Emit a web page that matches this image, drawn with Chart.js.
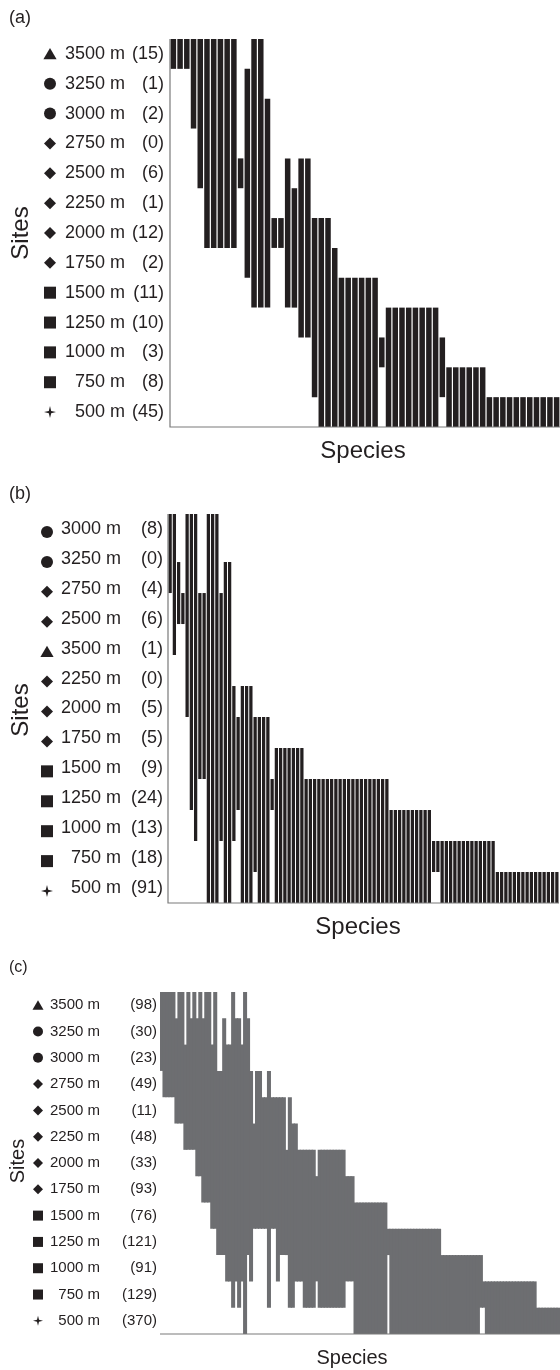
<!DOCTYPE html>
<html>
<head>
<meta charset="utf-8">
<script src="https://cdn.jsdelivr.net/npm/chart.js@4.4.0/dist/chart.umd.min.js"></script>
<style>
  body { margin: 0; background: #fff; width: 560px; height: 1370px; position: relative; overflow: hidden; }
  canvas { position: absolute; left: 0; }
</style>
</head>
<body>
<canvas id="chartA" width="560" height="470" style="top:0"></canvas>
<canvas id="chartB" width="560" height="475" style="top:470px"></canvas>
<canvas id="chartC" width="560" height="425" style="top:945px"></canvas>
<script>
// rows are counted from the bottom (0 = 500 m) up to 13 = top of the highest site
// each species is one column, drawn from its lowest to its highest site

// ---- panel (a) ----
const aSites = ['3500 m', '3250 m', '3000 m', '2750 m', '2500 m', '2250 m', '2000 m', '1750 m', '1500 m', '1250 m', '1000 m', '750 m', '500 m'];
const aCounts = ['(15)', '(1)', '(2)', '(0)', '(6)', '(1)', '(12)', '(2)', '(11)', '(10)', '(3)', '(8)', '(45)'];
const aSymbols = ['triangle', 'circle', 'circle', 'diamond', 'diamond', 'diamond', 'diamond', 'diamond', 'square', 'square', 'square', 'square', 'star'];
const aLow = [
  12, 12, 12, 10, 8, 6, 6, 6, 6, 6,
  8, 5, 4, 4, 4, 6, 6, 4, 4, 3,
  3, 1, 0, 0, 0, 0, 0, 0, 0, 0,
  0, 2, 0, 0, 0, 0, 0, 0, 0, 0,
  1, 0, 0, 0, 0, 0, 0, 0, 0, 0,
  0, 0, 0, 0, 0, 0, 0, 0
];
const aHigh = [
  13, 13, 13, 13, 13, 13, 13, 13, 13, 13,
  9, 12, 13, 13, 11, 7, 7, 9, 8, 9,
  9, 7, 7, 7, 6, 5, 5, 5, 5, 5,
  5, 3, 4, 4, 4, 4, 4, 4, 4, 4,
  3, 2, 2, 2, 2, 2, 2, 1, 1, 1,
  1, 1, 1, 1, 1, 1, 1, 1
];

// ---- panel (b) ----
const bSites = ['3000 m', '3250 m', '2750 m', '2500 m', '3500 m', '2250 m', '2000 m', '1750 m', '1500 m', '1250 m', '1000 m', '750 m', '500 m'];
const bCounts = ['(8)', '(0)', '(4)', '(6)', '(1)', '(0)', '(5)', '(5)', '(9)', '(24)', '(13)', '(18)', '(91)'];
const bSymbols = ['circle', 'circle', 'diamond', 'diamond', 'triangle', 'diamond', 'diamond', 'diamond', 'square', 'square', 'square', 'square', 'star'];
const bLow = [
  10, 8, 9, 9, 6, 3, 2, 4, 4, 0,
  0, 0, 2, 0, 0, 2, 3, 0, 0, 0,
  1, 0, 0, 0, 3, 0, 0, 0, 0, 0,
  0, 0, 0, 0, 0, 0, 0, 0, 0, 0,
  0, 0, 0, 0, 0, 0, 0, 0, 0, 0,
  0, 0, 0, 0, 0, 0, 0, 0, 0, 0,
  0, 0, 1, 1, 0, 0, 0, 0, 0, 0,
  0, 0, 0, 0, 0, 0, 0, 0, 0, 0,
  0, 0, 0, 0, 0, 0, 0, 0, 0, 0,
  0, 0
];
const bHigh = [
  13, 13, 11, 10, 13, 13, 13, 10, 10, 13,
  13, 13, 10, 11, 11, 7, 6, 7, 7, 7,
  6, 6, 6, 6, 4, 5, 5, 5, 5, 5,
  5, 5, 4, 4, 4, 4, 4, 4, 4, 4,
  4, 4, 4, 4, 4, 4, 4, 4, 4, 4,
  4, 4, 3, 3, 3, 3, 3, 3, 3, 3,
  3, 3, 2, 2, 2, 2, 2, 2, 2, 2,
  2, 2, 2, 2, 2, 2, 2, 1, 1, 1,
  1, 1, 1, 1, 1, 1, 1, 1, 1, 1,
  1, 1
];

// ---- panel (c) ----
const cSites = ['3500 m', '3250 m', '3000 m', '2750 m', '2500 m', '2250 m', '2000 m', '1750 m', '1500 m', '1250 m', '1000 m', '750 m', '500 m'];
const cCounts = ['(98)', '(30)', '(23)', '(49)', '(11)', '(48)', '(33)', '(93)', '(76)', '(121)', '(91)', '(129)', '(370)'];
const cSymbols = ['triangle', 'circle', 'circle', 'diamond', 'diamond', 'diamond', 'diamond', 'diamond', 'square', 'square', 'square', 'square', 'star'];
const cLow = [
  10, 9, 9, 9, 9, 8, 8, 8, 7, 7,
  7, 7, 6, 6, 5, 5, 5, 4, 4, 3,
  3, 3, 2, 2, 1, 2, 1, 2, 0, 3,
  2, 4, 4, 4, 4, 4, 1, 4, 4, 2,
  3, 3, 3, 1, 1, 2, 2, 2, 1, 1,
  1, 1, 2, 1, 1, 1, 1, 1, 1, 1,
  1, 1, 2, 2, 2, 0, 0, 0, 0, 0,
  0, 0, 0, 0, 0, 0, 3, 0, 0, 0,
  0, 0, 0, 0, 0, 0, 0, 0, 0, 0,
  0, 0, 0, 0, 0, 0, 0, 0, 0, 0,
  0, 0, 0, 0, 0, 0, 0, 1, 1, 0,
  0, 0, 0, 0, 0, 0, 0, 0, 0, 0,
  0, 0, 0, 0, 0, 0, 0, 0, 0, 0,
  0, 0, 0, 0
];
const cHigh = [
  13, 13, 13, 13, 13, 12, 13, 13, 11, 13,
  12, 13, 12, 13, 12, 13, 13, 11, 13, 10,
  10, 12, 11, 11, 13, 12, 12, 11, 13, 12,
  10, 8, 10, 10, 9, 9, 10, 9, 9, 9,
  9, 9, 7, 9, 8, 8, 7, 7, 7, 7,
  7, 7, 6, 7, 7, 7, 7, 7, 7, 7,
  7, 7, 6, 6, 6, 5, 5, 5, 5, 5,
  5, 5, 5, 5, 5, 5, 4, 4, 4, 4,
  4, 4, 4, 4, 4, 4, 4, 4, 4, 4,
  4, 4, 4, 4, 3, 3, 3, 3, 3, 3,
  3, 3, 3, 3, 3, 3, 3, 3, 2, 2,
  2, 2, 2, 2, 2, 2, 2, 2, 2, 2,
  2, 2, 2, 2, 2, 2, 1, 1, 1, 1,
  1, 1, 1, 1
];

const INK = '#231f20';
const FONT = "'Liberation Sans', Arial, Helvetica, sans-serif";

function drawSymbol(ctx, kind, x, y, s) {
  const h = s / 2;
  ctx.beginPath();
  if (kind === 'triangle') {
    ctx.moveTo(x, y - h);
    ctx.lineTo(x + h * 1.1, y + h * 0.9);
    ctx.lineTo(x - h * 1.1, y + h * 0.9);
    ctx.closePath();
  } else if (kind === 'circle') {
    ctx.arc(x, y, h, 0, Math.PI * 2);
  } else if (kind === 'diamond') {
    ctx.moveTo(x, y - h);
    ctx.lineTo(x + h, y);
    ctx.lineTo(x, y + h);
    ctx.lineTo(x - h, y);
    ctx.closePath();
  } else if (kind === 'square') {
    ctx.rect(x - h, y - h, s, s);
  } else if (kind === 'star') {
    const r = s * 0.1;
    ctx.moveTo(x, y - h);
    ctx.lineTo(x + r, y - r);
    ctx.lineTo(x + h, y);
    ctx.lineTo(x + r, y + r);
    ctx.lineTo(x, y + h);
    ctx.lineTo(x - r, y + r);
    ctx.lineTo(x - h, y);
    ctx.lineTo(x - r, y - r);
    ctx.closePath();
  }
  ctx.fill();
}

// draws the site labels, axis lines and titles around each matrix
const siteLabels = {
  id: 'siteLabels',
  afterDraw(chart, args, o) {
    const ctx = chart.ctx;
    const area = chart.chartArea;
    ctx.save();

    ctx.strokeStyle = '#7a7a7a';
    ctx.lineWidth = 1.2;
    ctx.beginPath();
    if (o.leftAxis) {
      ctx.moveTo(area.left, area.top);
      ctx.lineTo(area.left, area.bottom);
    } else {
      ctx.moveTo(area.left, area.bottom);
    }
    ctx.lineTo(area.right, area.bottom);
    ctx.stroke();

    const step = (area.bottom - area.top) / o.sites.length;
    ctx.fillStyle = INK;
    ctx.font = o.labelFont;
    ctx.textBaseline = 'middle';
    ctx.textAlign = 'right';
    o.sites.forEach((site, i) => {
      const cy = area.top + step * (i + 0.5);
      drawSymbol(ctx, o.symbols[i], o.symX, cy + o.symDy, o.symSize);
      ctx.fillText(site, o.siteX, cy);
      ctx.fillText(o.counts[i], o.countX, cy);
    });

    ctx.textAlign = 'left';
    ctx.font = o.tagFont;
    ctx.fillText(o.tag, 9, o.tagY);

    ctx.textAlign = 'center';
    ctx.font = o.titleFont;
    ctx.fillText('Species', o.speciesX, o.speciesY);
    ctx.translate(o.sitesX, o.sitesY);
    ctx.rotate(-Math.PI / 2);
    ctx.fillText('Sites', 0, 0);
    ctx.restore();
  }
};

function makeChart(id, low, high, cfg) {
  return new Chart(document.getElementById(id), {
    type: 'bar',
    data: {
      labels: low.map((v, i) => i + 1),
      datasets: [{
        data: low.map((v, i) => [v, high[i]]),
        backgroundColor: cfg.color,
        borderWidth: 0,
        barPercentage: 1,
        categoryPercentage: cfg.fill
      }]
    },
    options: {
      responsive: false,
      animation: false,
      events: [],
      layout: { padding: cfg.padding },
      plugins: {
        legend: { display: false },
        tooltip: { enabled: false },
        siteLabels: cfg.labels
      },
      scales: {
        x: { display: false },
        y: { display: false, min: 0, max: cfg.yMax }
      }
    },
    plugins: [siteLabels]
  });
}

makeChart('chartA', aLow, aHigh, {
  color: INK, fill: 0.82, yMax: 13,
  padding: { left: 170, top: 39, right: 0, bottom: 43 },
  labels: {
    sites: aSites, counts: aCounts, symbols: aSymbols, leftAxis: true,
    labelFont: '18px ' + FONT, symX: 50, symDy: 0, symSize: 12, siteX: 125, countX: 164,
    tag: '(a)', tagFont: '18px ' + FONT, tagY: 18,
    titleFont: '24px ' + FONT, speciesX: 363, speciesY: 451, sitesX: 21, sitesY: 233
  }
});

makeChart('chartB', bLow, bHigh, {
  color: INK, fill: 0.77, yMax: 12.55,
  padding: { left: 168, top: 44, right: 1, bottom: 42 },
  labels: {
    sites: bSites, counts: bCounts, symbols: bSymbols, leftAxis: true,
    labelFont: '18px ' + FONT, symX: 47, symDy: 3, symSize: 12, siteX: 121, countX: 163,
    tag: '(b)', tagFont: '18px ' + FONT, tagY: 24,
    titleFont: '24px ' + FONT, speciesX: 358, speciesY: 457, sitesX: 21, sitesY: 240
  }
});

makeChart('chartC', cLow, cHigh, {
  color: '#6d6e71', fill: 1.35, yMax: 13,
  padding: { left: 160, top: 47, right: 0, bottom: 36 },
  labels: {
    sites: cSites, counts: cCounts, symbols: cSymbols, leftAxis: false,
    labelFont: '15px ' + FONT, symX: 38, symDy: 0, symSize: 10, siteX: 100, countX: 157,
    tag: '(c)', tagFont: '16px ' + FONT, tagY: 23,
    titleFont: '20px ' + FONT, speciesX: 352, speciesY: 413, sitesX: 18, sitesY: 216
  }
});
</script>
</body>
</html>
